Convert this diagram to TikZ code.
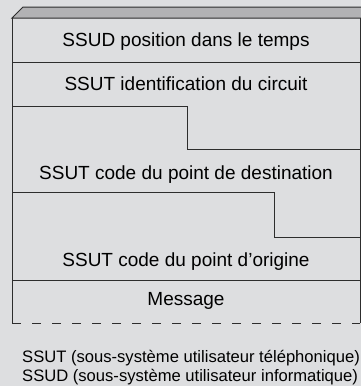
\documentclass[tikz,border=0pt]{standalone}
\usepackage{fontspec}
\setmainfont{Liberation Sans}
\definecolor{bgc}{RGB}{221,222,224}
\definecolor{linec}{RGB}{45,45,45}
\definecolor{bevelc}{RGB}{178,178,180}
\tikzset{
  rule/.style={draw=linec, line width=1pt},
  lbl/.style={anchor=base, inner sep=0pt, font=\fontsize{19}{22}\selectfont, text=black},
  legend/.style={anchor=base west, inner sep=0pt, font=\fontsize{16.6}{19}\selectfont, text=black}
}
\begin{document}
\begin{tikzpicture}[x=1pt,y=-1pt]
\fill[bgc] (0,0) rectangle (361,386);
\useasboundingbox (0,0) rectangle (361,386);
% bevel
\filldraw[fill=bevelc, rule, line join=miter] (12,18) -- (23,7) -- (362,7) -- (362,18) -- cycle;
% outer box
\draw[rule] (12,18) -- (12,323);
\draw[rule] (360,18) -- (360,323);
\draw[rule, dash pattern=on 9pt off 11pt] (12,323) -- (360,323);
% separators
\draw[rule] (12,62) -- (360,62);
\draw[rule] (12,106) -- (187,106) -- (187,149) -- (360,149);
\draw[rule] (12,192) -- (274,192) -- (274,237) -- (360,237);
\draw[rule] (12,280) -- (360,280);
% labels
\node[lbl] (ssud) at (186,46) {SSUD position dans le temps};
\node[lbl] (ident) at (186,90.5) {SSUT identification du circuit};
\node[lbl] (dest) at (186,179) {SSUT code du point de destination};
\node[lbl] (orig) at (186,266.5) {SSUT code du point d’origine};
\node[lbl] (msg) at (186,305.5) {Message};
% legend
\node[legend] (leg1) at (22,362.5) {SSUT (sous-système utilisateur téléphonique)};
\node[legend] (leg2) at (22,381) {SSUD (sous-système utilisateur informatique)};
\end{tikzpicture}
\end{document}
